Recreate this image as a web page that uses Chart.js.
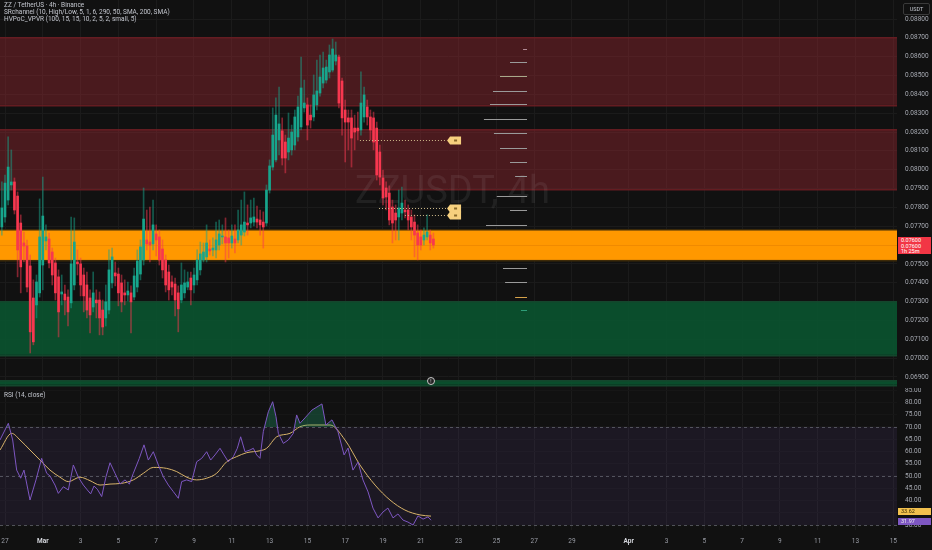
<!DOCTYPE html>
<html lang="en">
<head>
<meta charset="UTF-8">
<title>ZZ / TetherUS 4h</title>
<script src="https://cdn.jsdelivr.net/npm/chart.js"></script>
<style>
    html, body { margin: 0; padding: 0; background: #111111; }
    body { width: 932px; height: 550px; position: relative; overflow: hidden; font-family: Roboto, "Liberation Sans", sans-serif; }
    #priceChart { position: absolute; left: 0; top: 0; }
    #rsiChart { position: absolute; left: 0; top: 388px; }
    .legend { position: absolute; left: 4px; font-size: 6.5px; line-height: 7px; color: #c3c6ce; white-space: nowrap; }
    .usdt { position: absolute; left: 903px; top: 3px; width: 25px; height: 10px; border: 1px solid #3a3a3a; border-radius: 2px;
            font-size: 5.5px; line-height: 10px; text-align: center; color: #c3c6ce; }
    .axis-label { position: absolute; left: 898px; width: 33px; font-size: 5.5px; line-height: 5.6px; text-align: left; padding-left: 3px; box-sizing: border-box; }
    .marker { position: absolute; left: 427px; top: 377px; width: 6px; height: 6px; border: 1px solid #c8c8c8; border-radius: 50%;
              background: #222; font-size: 5px; line-height: 6px; text-align: center; color: #ddd; }
</style>
</head>
<body>
<canvas id="priceChart" width="932" height="388"></canvas>
<canvas id="rsiChart" width="932" height="162"></canvas>

<div class="legend" style="top:2px">ZZ / TetherUS · 4h · Binance</div>
<div class="legend" style="top:9px">SRchannel (10, High/Low, 5, 1, 6, 290, 50, SMA, 200, SMA)</div>
<div class="legend" style="top:16px">HVPoC_VPVR (100, 15, 15, 10, 2, 5, 2, small, 5)</div>
<div class="usdt">USDT</div>
<div class="marker">!</div>
<div class="legend" style="top:392px">RSI (14, close)</div>
<div id="lastPrice" class="axis-label" style="background:#f23645;color:#fff;height:17px;padding-top:1px"></div>
<div id="maLabel" class="axis-label" style="background:#f2c14e;color:#3a2c00;height:7px;line-height:7px"></div>
<div id="rsiLabel" class="axis-label" style="background:#7e57c2;color:#eee;height:7px;line-height:7px"></div>

<script>
    // candles: ZZUSDT 4h, first candle Feb 26 20:00 (x axis = days since Feb 27 00:00)
    const firstCandleDay = -1 / 6;
    const candleDays = 1 / 6;

    const openP = [
        0.07696, 0.07749, 0.07839, 0.07919, 0.07935, 0.07860, 0.07717, 0.07611, 0.07595, 0.07489,
        0.07319, 0.07282, 0.07346, 0.07494, 0.07622, 0.07632, 0.07563, 0.07505, 0.07431, 0.07340,
        0.07340, 0.07324, 0.07293, 0.07388, 0.07510, 0.07500, 0.07441, 0.07388, 0.07319, 0.07271,
        0.07308, 0.07308, 0.07255, 0.07213, 0.07255, 0.07399, 0.07452, 0.07446, 0.07399, 0.07346,
        0.07335, 0.07346, 0.07324, 0.07377, 0.07446, 0.07521, 0.07627, 0.07616, 0.07606, 0.07659,
        0.07643, 0.07579, 0.07521, 0.07457, 0.07404, 0.07393, 0.07346, 0.07308, 0.07346, 0.07377,
        0.07425, 0.07388, 0.07415, 0.07468, 0.07521, 0.07537, 0.07579, 0.07574, 0.07574, 0.07600,
        0.07643, 0.07643, 0.07638, 0.07611, 0.07632, 0.07627, 0.07653, 0.07669, 0.07717, 0.07717,
        0.07722, 0.07738, 0.07733, 0.07722, 0.07717, 0.07892, 0.08014, 0.08052, 0.08158, 0.08206,
        0.08147, 0.08094, 0.08105, 0.08131, 0.08174, 0.08227, 0.08328, 0.08344, 0.08290, 0.08280,
        0.08344, 0.08407, 0.08460, 0.08476, 0.08519, 0.08529, 0.08577, 0.08598, 0.08471, 0.08317,
        0.08275, 0.08275, 0.08221, 0.08221, 0.08211, 0.08280, 0.08333, 0.08280, 0.08275, 0.08221,
        0.08094, 0.07956, 0.07903, 0.07876, 0.07802, 0.07770, 0.07749, 0.07770, 0.07786, 0.07786,
        0.07749, 0.07722, 0.07664, 0.07643, 0.07627, 0.07643, 0.07653, 0.07632
    ];
    const highP = [
        0.07935, 0.07972, 0.08174, 0.08105, 0.07956, 0.07882, 0.07760, 0.07669, 0.07627, 0.07547,
        0.07415, 0.07441, 0.07845, 0.07961, 0.07707, 0.07664, 0.07584, 0.07531, 0.07468, 0.07441,
        0.07388, 0.07362, 0.07749, 0.07744, 0.07574, 0.07531, 0.07478, 0.07457, 0.07362, 0.07457,
        0.07362, 0.07351, 0.07308, 0.07388, 0.07574, 0.07584, 0.07510, 0.07478, 0.07441, 0.07415,
        0.07404, 0.07383, 0.07478, 0.07574, 0.07627, 0.07903, 0.07786, 0.07802, 0.07839, 0.07707,
        0.07680, 0.07627, 0.07547, 0.07494, 0.07436, 0.07425, 0.07383, 0.07505, 0.07468, 0.07457,
        0.07457, 0.07478, 0.07574, 0.07616, 0.07611, 0.07707, 0.07627, 0.07638, 0.07722, 0.07733,
        0.07707, 0.07744, 0.07680, 0.07707, 0.07707, 0.07786, 0.07839, 0.07882, 0.07813, 0.07839,
        0.07850, 0.07807, 0.07786, 0.07776, 0.07919, 0.08052, 0.08328, 0.08381, 0.08439, 0.08275,
        0.08184, 0.08301, 0.08237, 0.08317, 0.08391, 0.08598, 0.08476, 0.08381, 0.08344, 0.08503,
        0.08582, 0.08609, 0.08625, 0.08582, 0.08662, 0.08694, 0.08678, 0.08609, 0.08487, 0.08370,
        0.08317, 0.08317, 0.08290, 0.08306, 0.08519, 0.08439, 0.08370, 0.08317, 0.08306, 0.08253,
        0.08131, 0.07998, 0.07935, 0.07914, 0.07839, 0.07813, 0.07892, 0.07908, 0.07839, 0.07813,
        0.07786, 0.07760, 0.07707, 0.07680, 0.07691, 0.07760, 0.07680, 0.07664
    ];
    const lowP = [
        0.07653, 0.07722, 0.07813, 0.07892, 0.07765, 0.07431, 0.07346, 0.07510, 0.07351, 0.07027,
        0.07070, 0.07213, 0.07324, 0.07362, 0.07574, 0.07478, 0.07388, 0.07308, 0.07112, 0.07282,
        0.07229, 0.07170, 0.07266, 0.07362, 0.07441, 0.07330, 0.07245, 0.07213, 0.07133, 0.07245,
        0.07213, 0.07123, 0.07123, 0.07170, 0.07234, 0.07372, 0.07383, 0.07277, 0.07245, 0.07282,
        0.07303, 0.07133, 0.07308, 0.07351, 0.07415, 0.07494, 0.07574, 0.07510, 0.07574, 0.07542,
        0.07494, 0.07425, 0.07351, 0.07308, 0.07335, 0.07224, 0.07139, 0.07293, 0.07319, 0.07362,
        0.07282, 0.07346, 0.07388, 0.07441, 0.07510, 0.07510, 0.07547, 0.07542, 0.07531, 0.07574,
        0.07606, 0.07510, 0.07531, 0.07584, 0.07558, 0.07611, 0.07600, 0.07648, 0.07653, 0.07691,
        0.07701, 0.07691, 0.07653, 0.07584, 0.07701, 0.07876, 0.07998, 0.08041, 0.08078, 0.08025,
        0.07983, 0.08052, 0.08078, 0.08105, 0.08152, 0.08211, 0.08306, 0.08158, 0.08221, 0.08259,
        0.08317, 0.08391, 0.08434, 0.08460, 0.08487, 0.08519, 0.08556, 0.08328, 0.08184, 0.08041,
        0.08105, 0.08014, 0.08105, 0.08158, 0.08184, 0.08253, 0.08237, 0.08158, 0.08105, 0.07945,
        0.07919, 0.07813, 0.07786, 0.07707, 0.07611, 0.07627, 0.07627, 0.07733, 0.07744, 0.07680,
        0.07627, 0.07537, 0.07521, 0.07574, 0.07600, 0.07627, 0.07574, 0.07584
    ];
    const closeP = [
        0.07797, 0.07929, 0.08014, 0.07935, 0.07786, 0.07574, 0.07484, 0.07595, 0.07377, 0.07139,
        0.07086, 0.07404, 0.07643, 0.07754, 0.07643, 0.07505, 0.07441, 0.07346, 0.07245, 0.07351,
        0.07308, 0.07245, 0.07500, 0.07616, 0.07500, 0.07388, 0.07330, 0.07255, 0.07229, 0.07346,
        0.07293, 0.07213, 0.07165, 0.07298, 0.07468, 0.07537, 0.07436, 0.07346, 0.07298, 0.07335,
        0.07356, 0.07298, 0.07436, 0.07515, 0.07590, 0.07738, 0.07606, 0.07600, 0.07707, 0.07627,
        0.07521, 0.07468, 0.07388, 0.07362, 0.07377, 0.07308, 0.07261, 0.07388, 0.07399, 0.07404,
        0.07362, 0.07441, 0.07521, 0.07553, 0.07563, 0.07611, 0.07569, 0.07584, 0.07627, 0.07659,
        0.07648, 0.07611, 0.07611, 0.07648, 0.07611, 0.07680, 0.07707, 0.07722, 0.07707, 0.07744,
        0.07749, 0.07722, 0.07707, 0.07696, 0.07892, 0.08020, 0.08184, 0.08290, 0.08243, 0.08062,
        0.08062, 0.08168, 0.08200, 0.08280, 0.08333, 0.08434, 0.08354, 0.08237, 0.08264, 0.08397,
        0.08418, 0.08492, 0.08540, 0.08545, 0.08609, 0.08641, 0.08609, 0.08354, 0.08275, 0.08253,
        0.08253, 0.08168, 0.08200, 0.08206, 0.08354, 0.08397, 0.08280, 0.08211, 0.08147, 0.07972,
        0.07961, 0.07850, 0.07855, 0.07733, 0.07717, 0.07733, 0.07797, 0.07823, 0.07776, 0.07733,
        0.07696, 0.07653, 0.07600, 0.07600, 0.07653, 0.07669, 0.07611, 0.07600
    ];

    // support / resistance channels (SRchannel)
    const zoneTop    = [0.08699, 0.08211, 0.07680, 0.07298, 0.06879];
    const zoneBottom = [0.08344, 0.07898, 0.07521, 0.07017, 0.06858];
    const zoneKind   = ['res', 'res', 'inside', 'sup', 'sup'];
    const channelMid = 0.07600;

    // dotted levels with tags
    const tagPrice = [0.08158, 0.07797, 0.07760];
    const tagFrom  = [18.78, 19.79, 21.16];
    const tagTo    = 23.39;

    // volume profile rows (price, length in days, right edge)
    const vpPrice = [0.08641, 0.08572, 0.08497, 0.08418, 0.08349, 0.08269, 0.08195, 0.08115, 0.08041,
                     0.07967, 0.07861, 0.07786, 0.07707, 0.07478, 0.07404, 0.07324, 0.07255];
    const vpLen   = [0.21, 0.9, 1.43, 1.8, 1.96, 2.28, 1.75, 1.43, 0.9, 0.63, 1.6, 0.9, 2.17, 1.27, 1.16, 0.63, 0.32];
    const vpKind  = ['top', 'row', 'olive', 'row', 'row', 'row', 'row', 'row', 'row', 'row', 'row', 'row', 'row', 'row', 'row', 'val', 'low'];
    const vpRight = 27.62;

    // RSI (14, close) and its moving average
    const rsiT = [-0.265, 0.176, 0.406, 0.617, 0.829, 1.005, 1.323, 1.640, 1.940, 2.205,
        2.381, 2.646, 2.822, 3.086, 3.351, 3.616, 3.880, 4.145, 4.356, 4.533,
        4.709, 4.885, 5.115, 5.344, 5.556, 5.820, 6.085, 6.349, 6.578, 6.790,
        7.107, 7.354, 7.584, 7.848, 8.113, 8.377, 8.642, 8.907, 9.171, 9.347,
        9.612, 9.877, 10.141, 10.406, 10.670, 10.882, 11.111, 11.376, 11.587, 11.817,
        12.081, 12.293, 12.469, 12.698, 12.963, 13.139, 13.316, 13.492, 13.668, 13.933,
        14.162, 14.339, 14.462, 14.727, 14.991, 15.256, 15.432, 15.608, 15.873, 16.243,
        16.77, 16.98, 17.30, 17.62, 17.94, 18.15, 18.41, 18.68, 18.94, 19.21,
        19.47, 19.74, 20.0, 20.26, 20.53, 20.79, 21.06, 21.32, 21.59, 21.85,
        22.12, 22.38, 22.54];
    const rsiV = [64.7, 71.5, 64.7, 52.4, 49.1, 52.4, 40.2, 48.4, 57.2, 51.1,
        50.0, 46.3, 42.9, 45.6, 44.3, 54.5, 49.5, 46.3, 44.3, 42.7,
        45.9, 44.6, 41.6, 49.7, 55.4, 51.1, 46.7, 48.4, 46.7, 51.1,
        57.2, 62.7, 56.5, 59.9, 54.5, 49.7, 46.3, 43.6, 40.9, 47.7,
        48.4, 47.7, 55.8, 57.2, 59.9, 56.5, 58.6, 61.3, 58.6, 55.8,
        57.9, 61.3, 66.0, 59.9, 60.6, 61.3, 58.6, 57.2, 68.1, 76.2,
        80.3, 74.2, 67.4, 63.3, 64.7, 67.4, 74.9, 71.5, 73.7, 76.9,
        79.4, 70.8, 72.9, 68.0, 58.6, 61.4, 52.4, 55.7, 48.4, 43.5,
        36.9, 32.9, 35.3, 36.9, 32.9, 34.5, 32.0, 31.2, 30.0, 33.7,
        32.4, 33.3, 31.97];
    const maT = [-0.265, 0.353, 0.794, 1.323, 1.852, 2.381, 2.910, 3.351, 3.968, 4.497,
        5.026, 5.556, 6.173, 6.790, 7.319, 7.848, 8.554, 9.083, 9.612, 10.141,
        10.670, 11.199, 11.728, 12.257, 12.787, 13.492, 13.845, 14.374, 15.079, 15.608,
        16.14, 17.20, 17.99, 18.78, 19.58, 20.37, 21.16, 21.96, 22.54];
    const maV = [60.6, 67.4, 64.7, 60.6, 56.5, 52.4, 49.5, 47.7, 49.5, 48.1,
        46.3, 46.7, 47.0, 48.4, 51.1, 53.5, 53.1, 51.8, 49.5, 48.4,
        49.1, 51.1, 55.8, 57.9, 59.5, 60.3, 61.3, 66.0, 67.4, 70.1,
        70.8, 70.8, 64.7, 54.5, 46.3, 40.2, 36.1, 34.1, 33.62];
    const rsiBand = [30, 70];
    const rsiLevels = [70, 50, 30];

    // axes
    const tickDays   = [0, 2, 4, 6, 8, 10, 12, 14, 16, 18, 20, 22, 24, 26, 28, 30, 33, 35, 37, 39, 41, 43, 45, 47];
    const tickLabels = ['27', 'Mar', '3', '5', '7', '9', '11', '13', '15', '17', '19', '21', '23', '25', '27', '29',
                        'Apr', '3', '5', '7', '9', '11', '13', '15'];
    const priceTicks = [0.069, 0.070, 0.071, 0.072, 0.073, 0.074, 0.075, 0.076, 0.077, 0.078, 0.079,
                        0.080, 0.081, 0.082, 0.083, 0.084, 0.085, 0.086, 0.087, 0.088];
    const rsiTicks = [30, 35, 40, 45, 50, 55, 60, 65, 70, 75, 80, 85];
    const xMin = -0.2646, xMax = 47.196;

    const upColor = '#17a58c', downColor = '#f7374f';
    const upWick = 'rgba(23,165,140,0.5)', downWick = 'rgba(247,55,79,0.5)';
    const gridColor = '#1b1b1b';
    const axisFont = { family: 'Roboto', size: 6.5 };

    const zoneStyle = {
        res:    { fill: 'rgba(150,40,48,0.43)', edge: 'rgba(110,30,36,0.9)' },
        inside: { fill: '#ff9800', edge: '#3d2a08' },
        sup:    { fill: 'rgba(8,90,50,0.82)', edge: 'rgba(20,70,45,1)' }
    };
    const vpColors = { top: '#b08a94', row: '#9a9a9a', olive: '#a9a98a', val: '#d6a24a', low: '#2e9e78' };

    const candleX = openP.map((_, i) => firstCandleDay + i * candleDays);
    const isUp = closeP.map((c, i) => c >= openP[i]);

    function fitAxis(size, vertical) {
        return function (scale) {
            if (vertical) scale.width = size; else scale.height = size;
            scale.paddingTop = 0; scale.paddingBottom = 0;
            scale.paddingLeft = 0; scale.paddingRight = 0;
        };
    }

    const channelPlugin = {
        id: 'channels',
        beforeDatasetsDraw(chart) {
            const { ctx, chartArea: a, scales: { x, y } } = chart;
            const w = a.right - a.left;
            ctx.save();
            ctx.beginPath();
            ctx.rect(a.left, a.top, w, a.bottom - a.top);
            ctx.clip();
            zoneTop.forEach((top, i) => {
                const st = zoneStyle[zoneKind[i]];
                const y1 = y.getPixelForValue(top), y2 = y.getPixelForValue(zoneBottom[i]);
                ctx.fillStyle = st.fill;
                ctx.fillRect(a.left, y1, w, y2 - y1);
                ctx.fillStyle = st.edge;
                ctx.fillRect(a.left, Math.round(y1) - 1, w, 1.5);
                ctx.fillRect(a.left, Math.round(y2), w, 1.5);
            });
            ctx.fillStyle = '#f08a00';
            ctx.fillRect(a.left, Math.round(y.getPixelForValue(channelMid)), w, 1);

            ctx.font = '38px Roboto';
            ctx.fillStyle = 'rgba(200,200,200,0.09)';
            ctx.textAlign = 'center';
            ctx.textBaseline = 'middle';
            ctx.fillText('ZZUSDT, 4h', (a.left + a.right) / 2 + 4, (a.top + a.bottom) / 2 - 1);
            ctx.restore();
        },
        afterDatasetsDraw(chart) {
            const { ctx, scales: { x, y } } = chart;
            ctx.save();
            // volume profile rows
            vpPrice.forEach((p, i) => {
                const py = Math.round(y.getPixelForValue(p)) + 0.5;
                ctx.strokeStyle = vpColors[vpKind[i]];
                ctx.lineWidth = 1;
                ctx.beginPath();
                ctx.moveTo(x.getPixelForValue(vpRight - vpLen[i]), py);
                ctx.lineTo(x.getPixelForValue(vpRight), py);
                ctx.stroke();
            });
            // dotted levels + tags
            tagPrice.forEach((p, i) => {
                const py = Math.round(y.getPixelForValue(p)) + 0.5;
                const x2 = x.getPixelForValue(tagTo);
                ctx.strokeStyle = '#cdb98a';
                ctx.setLineDash([1, 2]);
                ctx.beginPath();
                ctx.moveTo(x.getPixelForValue(tagFrom[i]), py);
                ctx.lineTo(x2, py);
                ctx.stroke();
                ctx.setLineDash([]);
                ctx.fillStyle = '#f6d07e';
                ctx.beginPath();
                ctx.moveTo(x2, py);
                ctx.lineTo(x2 + 3, py - 4);
                ctx.lineTo(x2 + 14, py - 4);
                ctx.lineTo(x2 + 14, py + 4);
                ctx.lineTo(x2 + 3, py + 4);
                ctx.closePath();
                ctx.fill();
                ctx.fillStyle = '#8a6a2a';
                ctx.fillRect(x2 + 7, py - 1, 3, 2);
            });
            ctx.restore();
        }
    };

    const priceChart = new Chart(document.getElementById('priceChart'), {
        type: 'bar',
        data: {
            datasets: [
                {
                    label: 'body',
                    data: candleX.map((d, i) => ({ x: d, y: [openP[i], closeP[i]] })),
                    backgroundColor: isUp.map(u => u ? upColor : downColor),
                    barThickness: 2,
                    minBarLength: 1,
                    grouped: false
                },
                {
                    label: 'wick',
                    data: candleX.map((d, i) => ({ x: d, y: [lowP[i], highP[i]] })),
                    backgroundColor: isUp.map(u => u ? upWick : downWick),
                    barThickness: 1,
                    grouped: false
                }
            ]
        },
        options: {
            responsive: false,
            animation: false,
            layout: { padding: 0 },
            plugins: { legend: { display: false }, tooltip: { enabled: false } },
            scales: {
                x: {
                    type: 'linear', min: xMin, max: xMax, offset: false,
                    grid: { color: gridColor, drawTicks: false, offset: false },
                    border: { display: false },
                    ticks: { display: false },
                    afterBuildTicks: s => { s.ticks = tickDays.map(v => ({ value: v })); },
                    afterFit: fitAxis(0, false)
                },
                y: {
                    position: 'right', min: 0.06841, max: 0.08901,
                    grid: { color: gridColor, drawTicks: false },
                    border: { display: false },
                    ticks: { color: '#a7aab2', font: axisFont, padding: 8, callback: v => v.toFixed(5) },
                    afterBuildTicks: s => { s.ticks = priceTicks.map(v => ({ value: v })); },
                    afterFit: fitAxis(35, true)
                }
            }
        },
        plugins: [channelPlugin]
    });

    const rsiPlugin = {
        id: 'rsiBand',
        beforeDatasetsDraw(chart) {
            const { ctx, chartArea: a, scales: { y } } = chart;
            const w = a.right - a.left;
            ctx.save();
            const y1 = y.getPixelForValue(rsiBand[1]), y2 = y.getPixelForValue(rsiBand[0]);
            ctx.fillStyle = 'rgba(126,87,194,0.1)';
            ctx.fillRect(a.left, y1, w, y2 - y1);
            ctx.strokeStyle = 'rgba(120,123,134,0.6)';
            ctx.lineWidth = 1;
            ctx.setLineDash([3, 3]);
            rsiLevels.forEach(v => {
                const py = Math.round(y.getPixelForValue(v)) + 0.5;
                ctx.beginPath();
                ctx.moveTo(a.left, py);
                ctx.lineTo(a.right, py);
                ctx.stroke();
            });
            ctx.restore();
        }
    };

    const rsiChart = new Chart(document.getElementById('rsiChart'), {
        type: 'line',
        data: {
            datasets: [
                {
                    label: 'RSI',
                    data: rsiT.map((d, i) => ({ x: d, y: rsiV[i] })),
                    borderColor: '#7e57c2',
                    borderWidth: 1,
                    pointRadius: 0,
                    fill: { target: { value: 70 }, above: 'rgba(34,171,120,0.28)', below: 'rgba(0,0,0,0)' }
                },
                {
                    label: 'RSI-based MA',
                    data: maT.map((d, i) => ({ x: d, y: maV[i] })),
                    borderColor: '#d9b46a',
                    borderWidth: 1,
                    pointRadius: 0,
                    cubicInterpolationMode: 'monotone'
                }
            ]
        },
        options: {
            responsive: false,
            animation: false,
            layout: { padding: 0 },
            plugins: { legend: { display: false }, tooltip: { enabled: false } },
            scales: {
                x: {
                    type: 'linear', min: xMin, max: xMax,
                    grid: { color: gridColor, drawTicks: false },
                    border: { display: false },
                    ticks: {
                        autoSkip: false, maxRotation: 0, padding: 7,
                        font: ctx => ({ family: 'Roboto', size: 6.5, weight: /[A-Z]/.test(tickLabels[ctx.index] || '') ? 'bold' : 'normal' }),
                        color: ctx => /[A-Z]/.test(tickLabels[ctx.index] || '') ? '#d6d8de' : '#9a9da6',
                        callback: (v, i) => tickLabels[i]
                    },
                    afterBuildTicks: s => { s.ticks = tickDays.map(v => ({ value: v })); },
                    afterFit: fitAxis(20, false)
                },
                y: {
                    position: 'right', min: 27.96, max: 85.9,
                    grid: { color: '#161616', drawTicks: false },
                    border: { display: false },
                    ticks: { color: '#a7aab2', font: axisFont, padding: 8, callback: v => v.toFixed(2) },
                    afterBuildTicks: s => { s.ticks = rsiTicks.map(v => ({ value: v })); },
                    afterFit: fitAxis(35, true)
                }
            }
        },
        plugins: [rsiPlugin]
    });

    // axis value labels
    const last = closeP.length - 1;
    const lp = document.getElementById('lastPrice');
    lp.innerHTML = closeP[last].toFixed(5) + '<br>' + closeP[last].toFixed(5) + '<br>1h 25m';
    lp.style.top = (priceChart.scales.y.getPixelForValue(closeP[last]) - 8) + 'px';

    const ml = document.getElementById('maLabel');
    ml.textContent = maV[maV.length - 1].toFixed(2);
    ml.style.top = (388 + rsiChart.scales.y.getPixelForValue(maV[maV.length - 1]) - 8) + 'px';
    const rl = document.getElementById('rsiLabel');
    rl.textContent = rsiV[rsiV.length - 1].toFixed(2);
    rl.style.top = (388 + rsiChart.scales.y.getPixelForValue(rsiV[rsiV.length - 1]) - 2) + 'px';
</script>
</body>
</html>
